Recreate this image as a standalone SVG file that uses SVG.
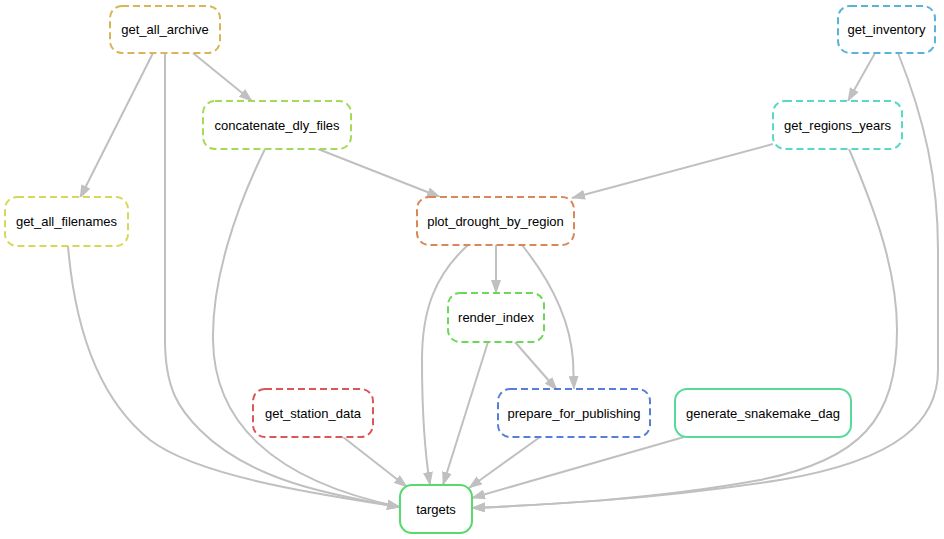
<svg xmlns="http://www.w3.org/2000/svg" width="944" height="539" viewBox="0 0 944 539">
<defs>
<marker id="arr" markerUnits="userSpaceOnUse" markerWidth="14" markerHeight="10" refX="13" refY="5" orient="auto">
<path d="M0,0 L14,5 L0,10 z" fill="#c0c0c0"/>
</marker>
<style>
.n rect{fill:#fff;stroke-width:2;}
.d rect{stroke-dasharray:7,4;}
.n text{font-family:"Liberation Sans",Arial,sans-serif;font-size:13px;text-anchor:middle;fill:#000;}
#edges path{fill:none;stroke:#c0c0c0;stroke-width:2;marker-end:url(#arr);}
</style>
</defs>
<rect width="944" height="539" fill="#fff"/>
<g id="edges">
<path d="M153,53 L80,198"/>
<path d="M193,53 L252,101"/>
<path d="M165,53 L165,340 C165,390 180,410 200,430 C250,480 330,495 400,507"/>
<path d="M318,149 L440,197"/>
<path d="M265,149 C235,210 212,280 213,340 C214,420 270,480 400,507"/>
<path d="M68,246 C75,330 100,400 150,440 C200,478 330,496 400,507"/>
<path d="M875,53 L848,101"/>
<path d="M898,53 C925,120 938,180 938,250 L938,370 C938,420 900,460 780,480 C650,500 540,505 472,508"/>
<path d="M773,144 L572,198"/>
<path d="M849,149 C875,210 897,270 897,330 C897,420 860,460 760,480 C650,500 540,505 472,508"/>
<path d="M496,245 L496,293"/>
<path d="M522,245 C550,280 570,320 573,360 L574,389"/>
<path d="M468,245 C435,275 422,310 422,360 C422,420 426,460 430,485"/>
<path d="M515,342 L557,390"/>
<path d="M488,342 L443,485"/>
<path d="M343,437 L407,487"/>
<path d="M540,437 L469,488"/>
<path d="M684,437 L472,498"/>
</g>
<g id="get_all_archive" class="n d"><rect x="110" y="6" width="110" height="47" rx="12" stroke="#d9b557"/><text x="165" y="33.5">get_all_archive</text></g>
<g id="concatenate_dly_files" class="n d"><rect x="203" y="101" width="148" height="48" rx="12" stroke="#a6d957"/><text x="277" y="129.5">concatenate_dly_files</text></g>
<g id="get_all_filenames" class="n d"><rect x="5" y="197" width="123" height="49" rx="12" stroke="#d5d957"/><text x="66.5" y="225.5">get_all_filenames</text></g>
<g id="get_inventory" class="n d"><rect x="838" y="6" width="97" height="47" rx="12" stroke="#57b4d9"/><text x="886.5" y="33.5">get_inventory</text></g>
<g id="get_regions_years" class="n d"><rect x="773" y="101" width="129" height="48" rx="12" stroke="#57d9c4"/><text x="837.5" y="129.5">get_regions_years</text></g>
<g id="plot_drought_by_region" class="n d"><rect x="417" y="197" width="157" height="48" rx="12" stroke="#d98757"/><text x="495.5" y="225.5">plot_drought_by_region</text></g>
<g id="render_index" class="n d"><rect x="448" y="293" width="96" height="49" rx="12" stroke="#6bd957"/><text x="496" y="321.5">render_index</text></g>
<g id="prepare_for_publishing" class="n d"><rect x="498" y="389" width="152" height="48" rx="12" stroke="#577fd9"/><text x="574" y="417.5">prepare_for_publishing</text></g>
<g id="get_station_data" class="n d"><rect x="253" y="389" width="120" height="48" rx="12" stroke="#d95757"/><text x="313" y="417.5">get_station_data</text></g>
<g id="generate_snakemake_dag" class="n"><rect x="675" y="389" width="176" height="48" rx="12" stroke="#57d99a"/><text x="763" y="417.5">generate_snakemake_dag</text></g>
<g id="targets" class="n"><rect x="400" y="485" width="72" height="48" rx="12" stroke="#57d96b"/><text x="436" y="513.5">targets</text></g>
</svg>
